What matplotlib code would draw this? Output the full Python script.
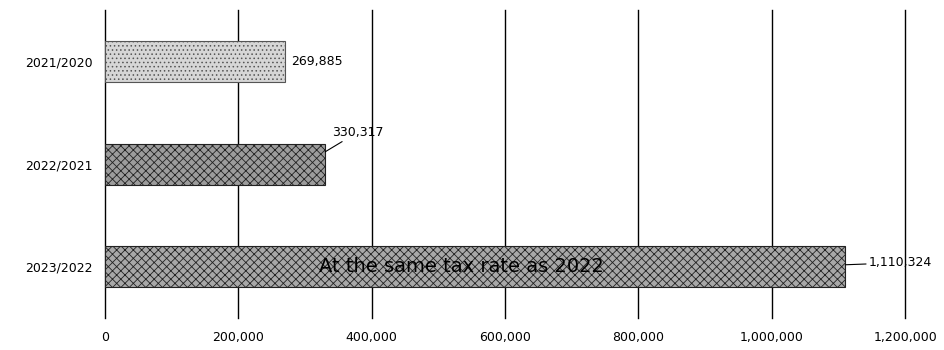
import matplotlib.pyplot as plt
import numpy as np

# DATOS DEL GRAFICO
categorias = ["2021/2020", "2022/2021", "2023/2022"]
valores = [269885, 330317, 1110324]
ticks_x = [0, 200000, 400000, 600000, 800000, 1000000, 1200000]
nota = "At the same tax rate as 2022"

plt.rcParams["font.family"] = ["DejaVu Sans"]
plt.rcParams["hatch.linewidth"] = 0.6

fig = plt.figure(figsize=(9.44, 3.5), dpi=100)
ax = fig.add_axes([0.111, 0.091, 0.848, 0.880])

y = np.arange(len(categorias))
colores = ["#d6d6d6", "#9c9c9c", "#a8a8a8"]
tramas = ["....", "xxxx", "xxxx"]
for i, v in enumerate(valores):
    ax.barh(y[i], v, height=0.4, color=colores[i], hatch=tramas[i],
            edgecolor="#555555" if i == 0 else "#222222", linewidth=0.8, zorder=3)

# LINEAS VERTICALES
for t in ticks_x:
    ax.axvline(t, color="black", linewidth=1.0, zorder=1, clip_on=False)

ax.set_xlim(0, 1200000)
ax.set_ylim(2.5, -0.5)
ax.set_xticks(ticks_x)
ax.set_xticklabels([f"{t:,}" for t in ticks_x], fontsize=9)
ax.set_yticks(y)
ax.set_yticklabels(categorias, fontsize=9)
ax.tick_params(length=0, pad=9)
for s in ax.spines.values():
    s.set_visible(False)

# ETIQUETAS DE VALORES
ax.text(valores[0] + 9000, y[0], f"{valores[0]:,}", va="center", ha="left", fontsize=9, zorder=4)
ax.annotate(f"{valores[1]:,}", xy=(valores[1], y[1] - 0.12), xytext=(valores[1] + 10000, y[1] - 0.31),
            fontsize=9, va="center", ha="left", zorder=4,
            arrowprops=dict(arrowstyle="-", color="black", linewidth=0.8, shrinkA=0, shrinkB=0))
ax.annotate(f"{valores[2]:,}", xy=(valores[2], y[2] - 0.02), xytext=(valores[2] + 35000, y[2] - 0.04),
            fontsize=9, va="center", ha="left", zorder=4,
            arrowprops=dict(arrowstyle="-", color="black", linewidth=0.8, shrinkA=0, shrinkB=0))

ax.text(535000, y[2], nota, va="center", ha="center", fontsize=14, zorder=5)

plt.savefig("out.png", dpi=100)
plt.close()
